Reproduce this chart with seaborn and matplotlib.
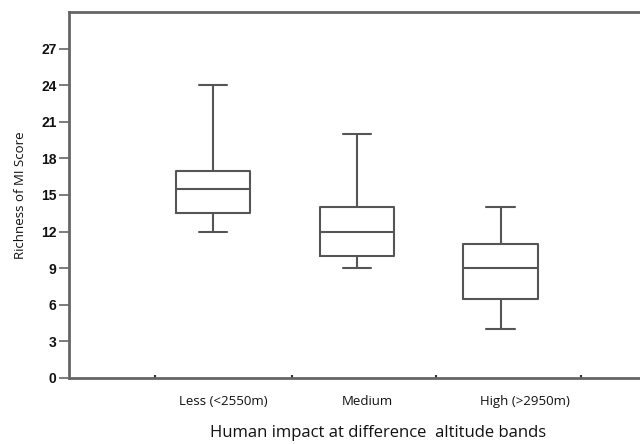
import numpy as np
import pandas as pd
import seaborn as sns
import matplotlib.pyplot as plt
import matplotlib.transforms as mtransforms

# ---------------------------------------
# Box summary
# ---------------------------------------
groups = ["Less (<2550m)", "Medium", "High (>2950m)"]
whisker_low = [12, 9, 4]
q1 = [13.5, 10, 6.5]
median = [15.5, 12, 9]
q3 = [17, 14, 11]
whisker_high = [24, 20, 14]

# five points per group reproduce min / quartiles / max exactly
rows = []
for i, g in enumerate(groups):
    for v in (whisker_low[i], q1[i], median[i], q3[i], whisker_high[i]):
        rows.append({"Group": g, "Score": v})
df = pd.DataFrame(rows)

sns.set_style("white")
line_col = "#555555"

fig = plt.figure(figsize=(6.4, 4.44), dpi=100)
ax = fig.add_axes([0.108, 0.149, 0.895, 0.824])

sns.boxplot(data=df, x="Group", y="Score", order=groups, ax=ax,
            whis=(0, 100), width=0.52, fill=False, color=line_col,
            linewidth=1.5, capwidths=0.2)

ax.set_xlim(-1.0, 2.98)
ax.set_ylim(0, 30)
ax.set_yticks(np.arange(0, 28, 3))

for side in ["left", "bottom", "top"]:
    ax.spines[side].set_color("#666666")
    ax.spines[side].set_linewidth(2)
ax.spines["right"].set_visible(False)

ax.tick_params(axis="y", left=True, length=7, width=1.2, color="#666666", pad=2)
for lab in ax.get_yticklabels():
    lab.set_fontfamily("Liberation Sans")
    lab.set_fontweight("bold")
    lab.set_fontsize(10)
    lab.set_color("#111111")

# category labels, slightly right of the boxes as in the original
ax.tick_params(axis="x", which="major", length=0, pad=12)
label_dx = [10, 10, 24]
for lab, dx in zip(ax.get_xticklabels(), label_dx):
    lab.set_fontfamily("Open Sans")
    lab.set_fontsize(9.5)
    lab.set_color("#111111")
    lab.set_transform(lab.get_transform() +
                      mtransforms.ScaledTranslation(dx / 100, 0, fig.dpi_scale_trans))

# tiny marks between categories on the bottom axis
ax.set_xticks([-0.4, 0.55, 1.55, 2.56], minor=True)
ax.tick_params(axis="x", which="minor", bottom=True, length=2, width=1.5,
               color="#333333", direction="in")

ax.set_ylabel("Richness of MI Score", fontfamily="Open Sans", fontsize=9.5,
              color="#111111", labelpad=10)
ax.set_xlabel("Human impact at difference  altitude bands", fontfamily="Open Sans",
              fontsize=12, color="#111111")
ax.xaxis.set_label_coords(0.54, -0.13)

plt.savefig("out.png", dpi=100)
